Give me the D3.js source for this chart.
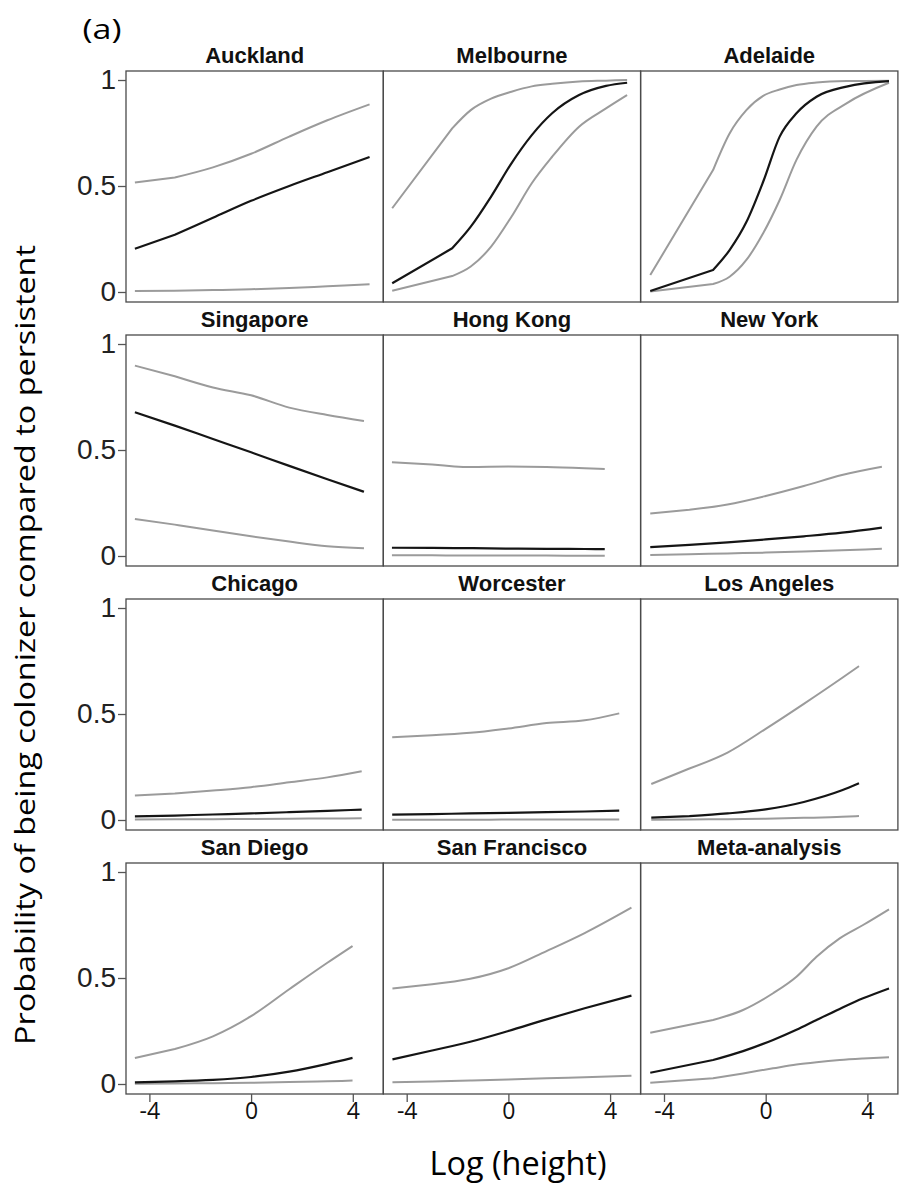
<!DOCTYPE html>
<html>
<head>
<meta charset="utf-8">
<script src="https://cdn.jsdelivr.net/npm/d3@7"></script>
<style>
  body { margin: 0; background: #fff; }
  .title { font-family: 'Liberation Sans', Arial, sans-serif; font-weight: bold; font-size: 22px; fill: #111; }
  .ylab text { font-family: 'Liberation Sans', Arial, sans-serif; font-size: 28px; fill: #222; }
  .xlab text { font-family: 'Open Sans', sans-serif; font-size: 23px; fill: #111; }
  .tick line { stroke: #555; stroke-width: 1.3; }
</style>
</head>
<body>
<div class="facet-plot"></div>
<script>

// panel names, row by row
const cities = ['Auckland', 'Melbourne', 'Adelaide',
    'Singapore', 'Hong Kong', 'New York',
    'Chicago', 'Worcester', 'Los Angeles',
    'San Diego', 'San Francisco', 'Meta-analysis'];

// log(height) positions read for each panel
const logHeight = [
    [-4.57, -3, -1.5, 0, 1.5, 3, 4.66],
    [-4.57, -2.21, -1.48, -0.68, 0.12, 0.92, 1.72, 2.78, 3.84, 4.67],
    [-4.54, -2.07, -1.42, -0.76, -0.1, 0.55, 1.21, 2.0, 3.18, 4.85],
    [-4.57, -3, -1.5, 0, 1.5, 3, 4.44],
    [-4.58, -3, -1.5, 0, 1.5, 3, 3.79],
    [-4.54, -3, -1.5, 0, 1.5, 3, 4.57],
    [-4.57, -3, -1.5, 0, 1.5, 3, 4.35],
    [-4.57, -3, -1.5, 0, 1.5, 3, 4.36],
    [-4.5, -3, -1.5, 0, 1.5, 3, 3.67],
    [-4.57, -3, -1.5, 0, 1.5, 3, 3.99],
    [-4.56, -3, -1.5, 0, 1.5, 3, 4.84],
    [-4.54, -2.07, -0.89, 0.29, 1.21, 2.0, 2.91, 3.83, 4.85]
];

const upperBand = [
    [0.516, 0.54, 0.588, 0.652, 0.733, 0.81, 0.885],
    [0.395, 0.772, 0.858, 0.912, 0.945, 0.97, 0.982, 0.993, 0.997, 1.0],
    [0.08, 0.575, 0.748, 0.858, 0.925, 0.955, 0.976, 0.988, 0.995, 0.997],
    [0.898, 0.848, 0.795, 0.758, 0.70, 0.665, 0.637],
    [0.442, 0.432, 0.42, 0.422, 0.42, 0.414, 0.41],
    [0.201, 0.218, 0.243, 0.283, 0.33, 0.382, 0.421],
    [0.115, 0.125, 0.139, 0.155, 0.178, 0.201, 0.23],
    [0.39, 0.40, 0.411, 0.432, 0.457, 0.47, 0.503],
    [0.17, 0.243, 0.318, 0.43, 0.548, 0.67, 0.726],
    [0.123, 0.165, 0.225, 0.32, 0.447, 0.572, 0.651],
    [0.451, 0.47, 0.496, 0.546, 0.627, 0.712, 0.832],
    [0.242, 0.302, 0.349, 0.428, 0.506, 0.6, 0.687, 0.75, 0.824]
];

const meanLine = [
    [0.204, 0.27, 0.35, 0.43, 0.50, 0.565, 0.637],
    [0.041, 0.206, 0.308, 0.45, 0.607, 0.74, 0.843, 0.929, 0.972, 0.987],
    [0.005, 0.104, 0.198, 0.33, 0.52, 0.733, 0.843, 0.921, 0.969, 0.995],
    [0.678, 0.615, 0.552, 0.489, 0.425, 0.362, 0.303],
    [0.039, 0.038, 0.037, 0.035, 0.034, 0.033, 0.032],
    [0.042, 0.052, 0.064, 0.078, 0.093, 0.11, 0.134],
    [0.017, 0.021, 0.026, 0.031, 0.037, 0.043, 0.049],
    [0.025, 0.028, 0.031, 0.034, 0.037, 0.04, 0.044],
    [0.011, 0.018, 0.031, 0.05, 0.085, 0.14, 0.173],
    [0.008, 0.012, 0.019, 0.033, 0.058, 0.095, 0.123],
    [0.116, 0.158, 0.199, 0.25, 0.305, 0.357, 0.417],
    [0.053, 0.113, 0.155, 0.208, 0.256, 0.302, 0.354, 0.404, 0.451]
];

const lowerBand = [
    [0.005, 0.006, 0.009, 0.013, 0.019, 0.027, 0.036],
    [0.006, 0.075, 0.12, 0.214, 0.355, 0.513, 0.638, 0.78, 0.866, 0.929],
    [0.002, 0.038, 0.072, 0.151, 0.277, 0.434, 0.623, 0.78, 0.89, 0.987],
    [0.175, 0.148, 0.12, 0.093, 0.068, 0.046, 0.036],
    [0.003, 0.003, 0.002, 0.002, 0.002, 0.001, 0.001],
    [0.005, 0.008, 0.012, 0.016, 0.021, 0.027, 0.034],
    [0.002, 0.003, 0.004, 0.005, 0.006, 0.007, 0.008],
    [0.001, 0.001, 0.001, 0.002, 0.002, 0.002, 0.002],
    [0.001, 0.002, 0.004, 0.006, 0.01, 0.015, 0.019],
    [0.001, 0.002, 0.004, 0.006, 0.009, 0.013, 0.016],
    [0.008, 0.012, 0.016, 0.021, 0.027, 0.032, 0.039],
    [0.006, 0.027, 0.05, 0.074, 0.092, 0.103, 0.113, 0.12, 0.126]
];

const yTicks = [0, 0.5, 1];
const yTickLabels = ['0', '0.5', '1'];
const xTicks = [-4, 0, 4];

const width = 899;
const height = 1187;
const left0 = 126, top0 = 71;
const pw = 257.3, ph = 231;
const rowStep = 264;

const svg = d3.select('.facet-plot')
    .append('svg')
    .attr('width', width)
    .attr('height', height)

const x = d3.scaleLinear().domain([-4.92, 5.2]).range([0, pw]);
const y = d3.scaleLinear().domain([-0.0472, 1.0425]).range([ph, 0]);

const straight = d3.line()
    .x(d => x(d[0]))
    .y(d => y(d[1]));
const smooth = d3.line()
    .x(d => x(d[0]))
    .y(d => y(d[1]))
    .curve(d3.curveMonotoneX);

// first step is drawn straight (coarse start of the fitted curve), the rest smooth
function curvePath(pts) {
    return straight(pts.slice(0, 2)) + smooth(pts.slice(1)).replace(/^M/, 'L');
}

cities.forEach((city, i) => {
    let col = i % 3;
    let row = Math.floor(i / 3);
    let g = svg.append('g')
        .attr('transform', `translate(${left0 + col * pw},${top0 + row * rowStep})`);

    g.append('text')
        .attr('class', 'title')
        .attr('x', pw / 2)
        .attr('y', -8)
        .attr('text-anchor', 'middle')
        .text(city);

    let xs = logHeight[i];
    let series = [
        {vals: lowerBand[i], color: '#9b9b9b', w: 2},
        {vals: upperBand[i], color: '#9b9b9b', w: 2},
        {vals: meanLine[i], color: '#151515', w: 2.2}
    ];
    series.forEach(s => {
        g.append('path')
            .datum(xs.map((v, k) => [v, s.vals[k]]))
            .attr('d', curvePath)
            .attr('fill', 'none')
            .attr('stroke', s.color)
            .attr('stroke-width', s.w)
            .attr('stroke-linejoin', 'round');
    })

    g.append('rect')
        .attr('x', 0)
        .attr('y', 0)
        .attr('width', pw)
        .attr('height', ph)
        .attr('fill', 'none')
        .attr('stroke', '#4a4a4a')
        .attr('stroke-width', 1.3);

    if (col == 0) {
        let ax = g.append('g')
            .attr('class', 'ylab')
            .call(d3.axisLeft(y).tickValues(yTicks).tickSize(8).tickPadding(2)
                .tickFormat((d, k) => yTickLabels[k]));
        ax.select('.domain').remove();
    }
    if (row == 3) {
        let ax = g.append('g')
            .attr('class', 'xlab')
            .attr('transform', `translate(0,${ph})`)
            .call(d3.axisBottom(x).tickValues(xTicks).tickSize(8).tickPadding(1)
                .tickFormat(d => String(d)));
        ax.select('.domain').remove();
    }
})

svg.append('text')
    .attr('x', 102)
    .attr('y', 39)
    .attr('text-anchor', 'middle')
    .attr('font-family', 'Open Sans, sans-serif')
    .attr('font-size', 28)
    .attr('textLength', 39)
    .attr('lengthAdjust', 'spacingAndGlyphs')
    .text('(a)');

svg.append('text')
    .attr('x', 518)
    .attr('y', 1175)
    .attr('text-anchor', 'middle')
    .attr('font-family', 'Open Sans, sans-serif')
    .attr('font-size', 33)
    .attr('textLength', 177)
    .attr('lengthAdjust', 'spacingAndGlyphs')
    .text('Log (height)');

svg.append('text')
    .attr('transform', 'translate(35,645) rotate(-90)')
    .attr('text-anchor', 'middle')
    .attr('font-family', 'Open Sans, sans-serif')
    .attr('font-size', 27)
    .attr('textLength', 800)
    .attr('lengthAdjust', 'spacingAndGlyphs')
    .text('Probability of being colonizer compared to persistent');

</script>
</body>
</html>
